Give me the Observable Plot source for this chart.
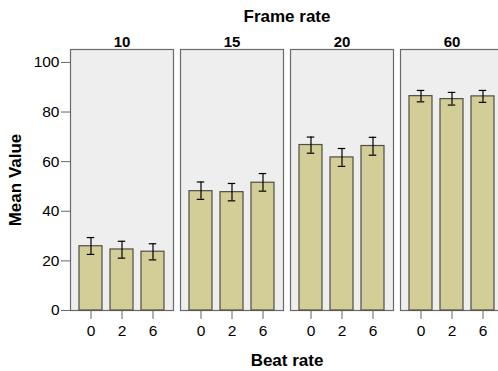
<!DOCTYPE html>
<html><head><meta charset="utf-8">
<script src="https://cdn.jsdelivr.net/npm/d3@7"></script>
<script src="https://cdn.jsdelivr.net/npm/@observablehq/plot@0.6"></script>
<style>
html,body{margin:0;padding:0;background:#fff;overflow:hidden;}
#chart svg{display:block;max-width:none;}
g[aria-label="y-axis label"] text,
g[aria-label="fx-axis label"] text{font-weight:bold;font-size:17px;}
g[aria-label="fx-axis tick label"] text{font-weight:bold;font-size:15px;}
</style>
</head><body><div id="chart"></div>
<script>
const frameRates = ["10", "15", "20", "60"];
const beatRates = ["0", "2", "6"];
const frameCol = ["10","10","10","15","15","15","20","20","20","60","60","60"];
const beatCol  = ["0","2","6","0","2","6","0","2","6","0","2","6"];
const meanVals = [25.9, 24.6, 23.7, 48.1, 47.7, 51.5, 66.7, 61.7, 66.3, 86.4, 85.2, 86.3];
const lowerCI  = [22.6, 21.1, 20.4, 44.8, 44.2, 48.1, 63.4, 58.1, 62.6, 84.1, 82.8, 83.9];
const upperCI  = [29.4, 27.9, 26.9, 51.8, 51.2, 55.2, 69.9, 65.3, 69.8, 88.7, 87.9, 88.7];
const yTicks = [0, 20, 40, 60, 80, 100];

const data = meanVals.map((m, i) => ({frame: frameCol[i], beat: beatCol[i], mean: m, lo: lowerCI[i], hi: upperCI[i]}));

const chart = Plot.plot({
  width: 505,
  height: 371,
  marginLeft: 70,
  marginRight: 2,
  marginTop: 49,
  marginBottom: 61,
  style: {fontFamily: "'Liberation Sans', Arial, sans-serif", fontSize: "15px", color: "#000", background: "#fff"},
  fx: {domain: frameRates, paddingInner: 7/110, paddingOuter: 0, label: null},
  x: {domain: beatRates, paddingInner: 0.242, paddingOuter: 0.28, label: null},
  y: {domain: [0, 105.2], label: null},
  marks: [
    Plot.frame({fill: "#eeeeee", stroke: "#6a6a6a", strokeWidth: 1.2}),
    Plot.barY(data, {fx: "frame", x: "beat", y: "mean", fill: "#d3ce97", stroke: "#4f4d44", strokeWidth: 1.2}),
    Plot.ruleX(data, {fx: "frame", x: "beat", y1: "lo", y2: "hi", stroke: "#000", strokeWidth: 1.2}),
    Plot.tickY(data, {fx: "frame", x: "beat", y: "lo", stroke: "#000", strokeWidth: 1.2, insetLeft: 7.75, insetRight: 7.75}),
    Plot.tickY(data, {fx: "frame", x: "beat", y: "hi", stroke: "#000", strokeWidth: 1.2, insetLeft: 7.75, insetRight: 7.75}),
    Plot.axisY({ticks: yTicks, tickSize: 9, tickPadding: 2, fontSize: 15.5, stroke: "#666", label: "Mean Value", labelArrow: "none", labelAnchor: "center", labelOffset: 62}),
    Plot.axisX({tickSize: 9, tickPadding: 5, fontSize: 15.5, stroke: "#666", label: null}),
    Plot.axisFx({anchor: "top", tickSize: 0, tickPadding: 3, fontSize: 15, label: "Frame rate", labelArrow: "none", labelAnchor: "center", labelOffset: 40}),
    Plot.axisFx({anchor: "bottom", tickSize: 0, tickFormat: () => "", label: "Beat rate", labelArrow: "none", labelAnchor: "center", labelOffset: 55})
  ]
});
document.getElementById("chart").appendChild(chart);
</script>
</body></html>
